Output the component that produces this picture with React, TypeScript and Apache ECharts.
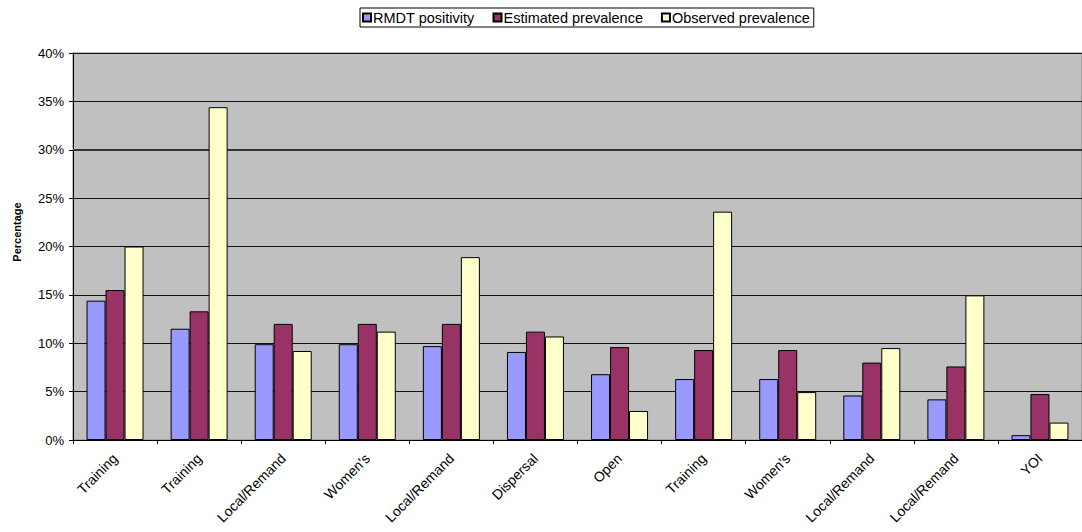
import React, { useEffect, useRef } from "react";
import * as echarts from "echarts";

const categories = [
  "Training",
  "Training",
  "Local/Remand",
  "Women's",
  "Local/Remand",
  "Dispersal",
  "Open",
  "Training",
  "Women's",
  "Local/Remand",
  "Local/Remand",
  "YOI",
];
const rmdtPositivity = [14.4, 11.5, 9.9, 9.9, 9.7, 9.1, 6.8, 6.3, 6.3, 4.6, 4.2, 0.5];
const estimatedPrevalence = [15.5, 13.3, 12.0, 12.0, 12.0, 11.2, 9.6, 9.3, 9.3, 8.0, 7.6, 4.75];
const observedPrevalence = [20.0, 34.4, 9.2, 11.2, 18.9, 10.7, 3.0, 23.6, 4.95, 9.5, 14.95, 1.8];
const seriesNames = ["RMDT positivity", "Estimated prevalence", "Observed prevalence"];
const seriesColors = ["#9999FF", "#993366", "#FFFFCC"];
const yAxisTitle = "Percentage";

const FONT = "Liberation Sans, Arial, sans-serif";

export default function App() {
  const ref = useRef<HTMLDivElement>(null);
  useEffect(() => {
    if (!ref.current) return;
    const chart = echarts.init(ref.current, null, { renderer: "svg" });
    const data = [rmdtPositivity, estimatedPrevalence, observedPrevalence];
    const bars = seriesNames.map((name, i) => ({
      name,
      type: "bar",
      data: data[i],
      barWidth: 19,
      barGap: "0%",
      z: 3,
      itemStyle: { color: seriesColors[i], borderColor: "#000", borderWidth: 1 },
    }));
    chart.setOption({
      animation: false,
      textStyle: { fontFamily: FONT },
      legend: {
        left: 360,
        top: 8,
        padding: [2, 4, 2, 2],
        borderColor: "#000",
        borderWidth: 1,
        itemWidth: 8,
        itemHeight: 8,
        itemGap: 18,
        icon: "rect",
        textStyle: { fontSize: 14.5, color: "#000", fontFamily: FONT, padding: [0, 0, 0, -3] },
        data: seriesNames,
      },
      graphic: [
        {
          type: "text",
          x: 17,
          y: 232,
          rotation: Math.PI / 2,
          style: {
            text: yAxisTitle,
            font: "bold 11px Liberation Sans, Arial, sans-serif",
            align: "center",
            verticalAlign: "middle",
            fill: "#000",
          },
        },
      ],
      grid: {
        left: 73,
        top: 53,
        height: 387,
        width: 1015,
        show: true,
        backgroundColor: "#C0C0C0",
        borderColor: "#808080",
        borderWidth: 1,
      },
      xAxis: {
        type: "category",
        data: categories,
        axisLine: { show: true, lineStyle: { color: "#000", width: 1 } },
        axisTick: { show: true, length: 4, lineStyle: { color: "#000" }, interval: 0 },
        axisLabel: {
          interval: 0,
          rotate: 45,
          fontSize: 14,
          color: "#000",
          fontFamily: FONT,
          margin: 16,
        },
      },
      yAxis: {
        type: "value",
        min: 0,
        max: 40,
        interval: 5,
        axisLine: { show: true, lineStyle: { color: "#000", width: 1 } },
        axisTick: { show: true, length: 4, lineStyle: { color: "#000" } },
        axisLabel: { formatter: "{value}%", fontSize: 13, color: "#000", fontFamily: FONT, margin: 9 },
        splitLine: { show: true, lineStyle: { color: "#111", width: 1 } },
      },
      series: [
        {
          name: "gridline",
          type: "line",
          data: [],
          z: 1,
          silent: true,
          markLine: {
            silent: true,
            symbol: "none",
            z: 1,
            label: { show: false },
            lineStyle: { color: "#333", width: 2, type: "solid" },
            data: [{ yAxis: 30 }],
          },
        },
        ...bars,
      ],
    });
    return () => chart.dispose();
  }, []);
  return (
    <div
      ref={ref}
      style={{ position: "fixed", left: 0, top: 0, width: 1082, height: 532, background: "#fff" }}
    />
  );
}
